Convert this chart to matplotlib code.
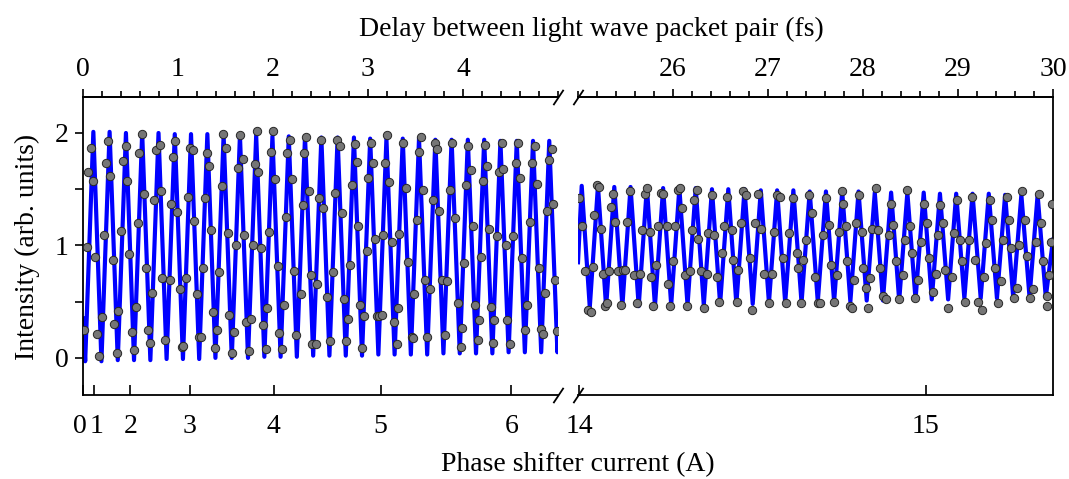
import numpy as np
import matplotlib
matplotlib.use("Agg")
import matplotlib.pyplot as plt
from matplotlib.ticker import FixedLocator, MultipleLocator
from matplotlib.transforms import ScaledTranslation

plt.rcParams['font.family'] = ['Liberation Serif', 'DejaVu Serif']

# ---------------- data ----------------
# measured points, left panel (delay in fs, intensity in arb. units)
left_delay = [0.014, 0.039, 0.056, 0.081, 0.109, 0.126, 0.144, 0.168, 0.196, 0.221, 0.242, 0.260, 0.288, 0.312,
              0.330, 0.354, 0.372, 0.400, 0.425, 0.449, 0.467, 0.488, 0.512, 0.540, 0.558, 0.575, 0.593, 0.625,
              0.646, 0.663, 0.681, 0.705, 0.730, 0.751, 0.768, 0.811, 0.821, 0.835, 0.863, 0.916, 0.926, 0.951,
              0.968, 0.993, 1.018, 1.039, 1.056, 1.081, 1.109, 1.130, 1.161, 1.168, 1.196, 1.225, 1.242, 1.260,
              1.284, 1.309, 1.326, 1.347, 1.365, 1.389, 1.414, 1.432, 1.460, 1.477, 1.502, 1.523, 1.540, 1.565,
              1.593, 1.611, 1.628, 1.653, 1.688, 1.698, 1.716, 1.747, 1.765, 1.786, 1.811, 1.828, 1.846, 1.870,
              1.891, 1.923, 1.933, 1.958, 1.979, 2.004, 2.021, 2.049, 2.063, 2.098, 2.119, 2.133, 2.151, 2.179,
              2.204, 2.221, 2.239, 2.291, 2.312, 2.326, 2.347, 2.379, 2.396, 2.414, 2.449, 2.467, 2.484, 2.505,
              2.530,
              2.572, 2.600, 2.635, 2.652, 2.677, 2.705, 2.730, 2.747, 2.768, 2.793, 2.810, 2.835, 2.863, 2.880,
              2.898, 2.916, 2.937, 2.961, 2.986, 3.003, 3.028, 3.056, 3.073, 3.098, 3.119, 3.144, 3.161, 3.179,
              3.203, 3.224, 3.249, 3.273, 3.302, 3.312, 3.330, 3.372, 3.400, 3.424, 3.459, 3.477, 3.488, 3.512,
              3.537, 3.554, 3.575, 3.600, 3.624, 3.652, 3.680, 3.705, 3.723, 3.751, 3.775, 3.810, 3.828, 3.863,
              3.880, 3.916, 3.951, 3.975, 3.993, 4.010, 4.031, 4.056, 4.080, 4.102, 4.126, 4.161, 4.168, 4.186,
              4.207, 4.231, 4.256, 4.277, 4.291, 4.319, 4.326, 4.354, 4.379, 4.407, 4.424, 4.449, 4.466, 4.495,
              4.523, 4.558, 4.582, 4.600, 4.624, 4.652, 4.677, 4.705, 4.730, 4.758, 4.775, 4.800, 4.817, 4.845,
              4.863, 4.880, 4.902, 4.933, 4.951, 4.972, 4.986]
left_intensity = [0.25, 0.99, 1.65, 1.87, 1.57, 0.90, 0.21, 0.02, 0.36, 1.09, 1.73, 1.93, 1.62, 0.87,
                  0.30, 0.04, 0.42, 1.13, 1.75, 1.88, 1.57, 0.92, 0.23, 0.07, 0.45, 1.20, 1.82, 1.99,
                  1.46, 0.80, 0.25, 0.13, 0.58, 1.40, 1.85, 1.89, 1.48, 0.71, 0.16, 0.69, 1.37, 1.79,
                  1.93, 1.30, 0.61, 0.10, 0.11, 0.71, 1.43, 1.87, 1.85, 1.22, 0.57, 0.19, 0.19, 0.80,
                  1.42, 1.82, 1.71, 1.14, 0.41, 0.09, 0.25, 0.76, 1.53, 1.99, 1.87, 1.11, 0.38, 0.04,
                  0.23, 1.00, 1.69, 1.98, 1.77, 1.09, 0.32, 0.06, 0.35, 1.00, 1.72, 2.02, 1.65, 0.98,
                  0.29, 0.08, 0.44, 1.12, 1.83, 2.02, 1.59, 0.82, 0.22, 0.08, 0.47, 1.25, 1.82, 1.94,
                  1.59, 0.77, 0.20, 0.57, 1.36, 1.82, 1.96, 1.48, 0.74, 0.12, 0.12, 0.66, 1.42, 1.94,
                  1.33,
                  0.54, 0.15, 0.76, 1.47, 1.94, 1.88, 1.29, 0.52, 0.15, 0.35, 0.83, 1.54, 1.90, 1.74,
                  1.17, 0.47, 0.09, 0.37, 0.95, 1.60, 1.91, 1.73, 1.06, 0.37, 0.37, 0.38, 1.09, 1.73,
                  1.98, 1.56, 1.03, 0.32, 0.12, 0.44, 1.10, 1.91, 1.51, 0.85, 0.19, 0.18, 0.57, 1.23,
                  1.83, 1.96, 1.49, 0.69, 0.19, 0.61, 1.40, 1.91, 1.86, 1.31, 0.69, 0.20, 0.68, 1.49,
                  1.91, 1.24, 0.49, 0.10, 0.27, 0.84, 1.54, 1.88, 1.67, 1.17, 0.47, 0.16, 0.34, 0.90,
                  1.57, 1.89, 1.71, 1.15, 0.45, 0.13, 0.34, 1.08, 1.65, 1.91, 1.68, 1.00, 0.34, 0.12,
                  1.08, 1.73, 1.91, 1.60, 0.89, 0.25, 0.47, 1.21, 1.73, 1.88, 1.55, 0.80, 0.26, 0.21,
                  0.58, 1.31, 1.76, 1.86, 1.37, 0.69, 0.24]

# measured points, right panel
right_delay = [25.014, 25.039, 25.074, 25.109, 25.134, 25.155, 25.169, 25.197, 25.225, 25.239,
               25.267, 25.284, 25.309, 25.330, 25.348, 25.372, 25.390, 25.425, 25.449, 25.470,
               25.495, 25.512, 25.548, 25.593, 25.618, 25.653, 25.670, 25.705, 25.730, 25.758,
               25.769, 25.786, 25.821, 25.846, 25.870, 25.898, 25.934, 25.951, 25.969, 26.004,
               26.021, 26.056, 26.074, 26.091, 26.127, 26.151, 26.179, 26.197, 26.221, 26.249,
               26.267, 26.291, 26.327, 26.355, 26.372, 26.407, 26.432, 26.460, 26.488, 26.520,
               26.537, 26.565, 26.618, 26.635, 26.670, 26.688, 26.712, 26.741, 26.765, 26.811,
               26.835, 26.863, 26.898, 26.923, 26.958, 27.014, 27.039, 27.063, 27.091, 27.127,
               27.162, 27.190, 27.225, 27.260, 27.302, 27.320, 27.344, 27.372, 27.400, 27.435,
               27.467, 27.495, 27.530,
               27.547, 27.582, 27.610, 27.646, 27.660, 27.695, 27.723, 27.751, 27.782, 27.793,
               27.821, 27.835, 27.863, 27.881, 27.905, 27.923, 27.958, 27.986, 28.003, 28.031,
               28.056, 28.074, 28.091, 28.133, 28.161, 28.179, 28.214, 28.242, 28.274, 28.295,
               28.319, 28.347, 28.382, 28.417, 28.442, 28.467, 28.495, 28.519, 28.547, 28.582,
               28.610, 28.642, 28.677, 28.695, 28.740, 28.768, 28.786, 28.810, 28.846, 28.863,
               28.898, 28.933, 28.958, 28.986, 29.021, 29.046, 29.074, 29.119, 29.151, 29.179,
               29.214, 29.249, 29.274, 29.295, 29.337, 29.361, 29.389, 29.424, 29.449, 29.470,
               29.512, 29.540, 29.558, 29.589, 29.617, 29.646, 29.674, 29.705, 29.730, 29.758,
               29.786, 29.821, 29.856, 29.870, 29.898, 29.933, 29.940, 29.961, 29.975, 29.986]
right_intensity = [1.42, 1.17, 0.77, 0.43, 0.41, 0.81, 1.27, 1.54, 1.52, 1.15,
                   0.75, 0.46, 0.49, 0.77, 1.34, 1.46, 1.21, 0.77, 0.47, 0.78,
                   0.78, 1.21, 1.48, 0.74, 0.49, 0.75, 1.14, 1.46, 1.51, 1.12,
                   0.72, 0.46, 0.83, 1.17, 1.47, 1.46, 1.17, 0.66, 0.46, 0.86,
                   1.17, 1.49, 1.51, 1.33, 0.74, 0.46, 0.77, 1.14, 1.40, 1.49,
                   1.06, 0.77, 0.44, 0.75, 1.11, 1.45, 1.09, 0.72, 0.50, 0.93,
                   1.17, 1.43, 1.14, 0.87, 0.50, 0.78, 1.20, 1.48, 1.45, 0.89,
                   0.43, 1.20, 1.46, 1.15, 0.75, 0.49, 0.75, 1.12, 1.45, 1.43,
                   0.89, 0.49, 1.11, 1.42, 0.93, 0.80, 0.49, 0.87, 1.05, 1.45,
                   1.29, 0.72, 0.49,
                   0.49, 1.09, 1.42, 1.18, 0.83, 0.50, 0.74, 1.12, 1.48, 1.37,
                   1.17, 0.86, 0.46, 0.44, 0.69, 1.20, 1.45, 1.12, 0.80, 0.62,
                   0.44, 0.71, 1.15, 1.51, 1.14, 0.80, 0.55, 0.52, 1.09, 1.37,
                   1.18, 0.86, 0.52, 0.74, 1.05, 1.49, 1.17, 0.93, 0.53, 0.69,
                   1.03, 1.37, 1.20, 0.89, 0.59, 0.75, 1.09, 1.36, 1.20, 0.78,
                   0.44, 0.72, 1.11, 1.40, 1.05, 0.86, 0.50, 1.05, 1.43, 0.87,
                   0.50, 0.43, 0.72, 1.02, 1.40, 1.23, 0.80, 0.49, 0.68, 1.05,
                   1.43, 1.23, 0.98, 0.53, 0.62, 1.00, 1.48, 1.23, 0.91, 0.53,
                   0.61, 1.03, 1.46, 1.20, 0.86, 0.55, 0.46, 0.74, 1.03, 1.37]

# fitted curve, described by its extrema
left_fit_start = (0.0, 0.35)
left_fit_end = (5.0, 0.25)
left_peak_delay = [0.109, 0.280, 0.452, 0.623, 0.795, 0.966, 1.137, 1.309, 1.480, 1.652, 1.823, 1.994, 2.166,
                   2.337, 2.509, 2.680, 2.852, 3.023, 3.194, 3.366, 3.537, 3.709, 3.880, 4.051, 4.223, 4.394,
                   4.566, 4.737, 4.908]
left_peak_value = [2.01, 2.01, 2.00, 2.00, 2.00, 1.99, 1.99, 1.99, 1.98, 1.98, 1.98, 1.97, 1.97, 1.97, 1.96,
                   1.96, 1.96, 1.95, 1.95, 1.95, 1.95, 1.94, 1.94, 1.94, 1.94, 1.93, 1.93, 1.93, 1.93]
left_trough_delay = [0.023, 0.194, 0.366, 0.537, 0.709, 0.880, 1.052, 1.223, 1.394, 1.566, 1.737, 1.909,
                     2.080, 2.251, 2.423, 2.594, 2.766, 2.937, 3.109, 3.280, 3.451, 3.623, 3.794, 3.966,
                     4.137, 4.309, 4.480, 4.651, 4.823, 4.994]
left_trough_value = [-0.03, -0.03, -0.02, -0.02, -0.02, -0.01, -0.01, -0.01, 0.00, 0.00, 0.00, 0.01, 0.01,
                     0.01, 0.02, 0.02, 0.02, 0.02, 0.03, 0.03, 0.03, 0.03, 0.04, 0.04, 0.04, 0.04, 0.05,
                     0.05, 0.05, 0.05]

right_fit_start = (25.0, 0.85)
right_fit_end = (30.0, 1.05)
right_peak_delay = [25.039, 25.210, 25.382, 25.553, 25.725, 25.896, 26.067, 26.239, 26.410, 26.582, 26.753,
                    26.924, 27.096, 27.267, 27.439, 27.610, 27.781, 27.953, 28.124, 28.296, 28.467, 28.639,
                    28.810, 28.981, 29.153, 29.324, 29.496, 29.667, 29.838]
right_peak_value = [1.53, 1.53, 1.52, 1.52, 1.52, 1.51, 1.51, 1.51, 1.50, 1.50, 1.50, 1.49, 1.49, 1.49, 1.48,
                    1.48, 1.48, 1.48, 1.47, 1.47, 1.47, 1.47, 1.46, 1.46, 1.46, 1.46, 1.45, 1.45, 1.45]
right_trough_delay = [25.124, 25.296, 25.467, 25.639, 25.810, 25.981, 26.153, 26.324, 26.496, 26.667, 26.839,
                      27.010, 27.181, 27.353, 27.524, 27.696, 27.867, 28.039, 28.210, 28.381, 28.553, 28.724,
                      28.896, 29.067, 29.239, 29.410, 29.581, 29.753, 29.924]
right_trough_value = [0.45, 0.45, 0.46, 0.46, 0.46, 0.47, 0.47, 0.47, 0.48, 0.48, 0.48, 0.49, 0.49, 0.49, 0.50,
                      0.50, 0.50, 0.51, 0.51, 0.51, 0.52, 0.52, 0.52, 0.53, 0.53, 0.53, 0.54, 0.54, 0.54]

# axis ranges and ticks
left_xlim = (0.0, 5.0)
right_xlim = (25.0, 30.0)
y_lim = (-0.33, 2.32)
y_ticks = [0, 0.5, 1, 1.5, 2]
y_ticklabels = ['0', '', '1', '', '2']
left_top_major = [0, 1, 2, 3, 4]
right_top_major = [26, 27, 28, 29, 30]
left_current_labels = ['0', '1', '2', '3', '4', '5', '6']
left_current_delay = [0.0, 0.119, 0.498, 1.126, 2.007, 3.134, 4.509]
right_current_labels = ['14', '15']
right_current_delay = [25.014, 28.66]

top_title = 'Delay between light wave packet pair (fs)'
bottom_title = 'Phase shifter current (A)'
y_title = 'Intensity (arb. units)'


def fit_path(start, pk_d, pk_v, tr_d, tr_v, end):
    d = np.concatenate([[start[0]], pk_d, tr_d, [end[0]]])
    v = np.concatenate([[start[1]], pk_v, tr_v, [end[1]]])
    order = np.argsort(d)
    return d[order], v[order]


W, H = 1069, 479
fig = plt.figure(figsize=(W / 100, H / 100), dpi=100)
axL = fig.add_axes([83 / W, 1 - 395 / H, 475 / W, 298 / H])
axR = fig.add_axes([578 / W, 1 - 395 / H, 475 / W, 298 / H])

FS = 20
line_kw = dict(color='#0000ff', lw=3.0, solid_joinstyle='round', zorder=2)
pt_kw = dict(s=36, facecolor='#767676', edgecolor='#262626', linewidths=0.7, zorder=3)

d, v = fit_path(left_fit_start, left_peak_delay, left_peak_value,
                left_trough_delay, left_trough_value, left_fit_end)
axL.plot(d, v, **line_kw)
axL.scatter(left_delay, left_intensity, **pt_kw)

d, v = fit_path(right_fit_start, right_peak_delay, right_peak_value,
                right_trough_delay, right_trough_value, right_fit_end)
axR.plot(d, v, **line_kw)
axR.scatter(right_delay, right_intensity, **pt_kw)

axL.set_xlim(*left_xlim)
axR.set_xlim(*right_xlim)
for ax in (axL, axR):
    ax.set_ylim(*y_lim)
    for s in ax.spines.values():
        s.set_linewidth(1.3)
axL.spines['right'].set_visible(False)
axR.spines['left'].set_visible(False)

# y axis
axL.yaxis.set_major_locator(FixedLocator(y_ticks))
axL.set_yticklabels(y_ticklabels)
axL.tick_params(axis='y', direction='out', length=5.5, width=1.2, pad=5, labelsize=FS)
axR.tick_params(axis='y', left=False, labelleft=False, right=False)

# bottom axis: phase shifter current
for ax, pos, lab in ((axL, left_current_delay, left_current_labels),
                     (axR, right_current_delay, right_current_labels)):
    ax.set_xticks(pos)
    ax.set_xticklabels(lab)
    ax.tick_params(axis='x', direction='in', length=7.5, width=1.2, pad=14, labelsize=FS, top=False)

# nudge the two touching labels "0" and "1" slightly apart
lbls = axL.get_xticklabels()
lbls[0].set_transform(lbls[0].get_transform() + ScaledTranslation(-2.2 / 72, 0, fig.dpi_scale_trans))
lbls[1].set_transform(lbls[1].get_transform() + ScaledTranslation(1.6 / 72, 0, fig.dpi_scale_trans))

# top axis: delay
for ax, major in ((axL, left_top_major), (axR, right_top_major)):
    sec = ax.secondary_xaxis('top')
    sec.set_xticks(major)
    sec.set_xticklabels([str(m) for m in major])
    sec.xaxis.set_minor_locator(MultipleLocator(0.2))
    sec.tick_params(axis='x', which='major', direction='out', length=6, width=1.2, pad=5, labelsize=FS)
    sec.tick_params(axis='x', which='minor', direction='out', length=4, width=1.2)
    sec.spines['top'].set_linewidth(1.3)

# break marks
bk = dict(marker=[(-1, -1.5), (1, 1.5)], markersize=11, linestyle='none',
          color='k', mec='k', mew=1.3, clip_on=False, zorder=5)
axL.plot([1, 1], [0, 1], transform=axL.transAxes, **bk)
axR.plot([0, 0], [0, 1], transform=axR.transAxes, **bk)

fig.text(591 / W, 1 - 29 / H, top_title, ha='center', va='center', fontsize=FS)
fig.text(578 / W, 1 - 465 / H, bottom_title, ha='center', va='center', fontsize=FS)
fig.text(27 / W, 1 - 247 / H, y_title, ha='center', va='center', rotation=90, fontsize=FS)

fig.savefig('out.png', dpi=100)
